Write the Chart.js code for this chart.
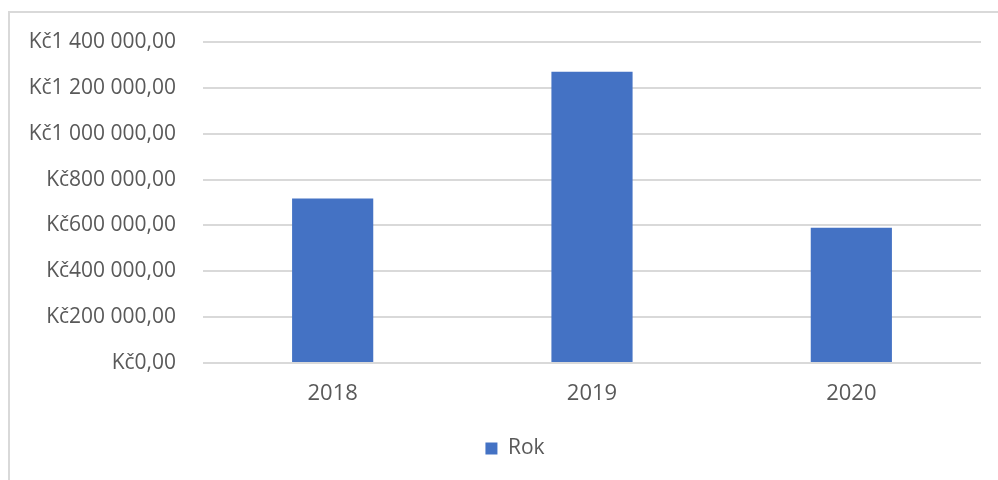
<!DOCTYPE html>
<html>
<head>
<meta charset="utf-8">
<script src="https://cdn.jsdelivr.net/npm/chart.js@4.4.1/dist/chart.umd.min.js"></script>
<style>
  html, body { margin: 0; padding: 0; background: #fff; overflow: hidden; }
  .frame {
    position: absolute; left: 8px; top: 11px; width: 1200px; height: 600px;
    border-top: 2px solid #d9d9d9; border-left: 2px solid #d9d9d9;
  }
  canvas { position: absolute; left: 0; top: 0; }
</style>
</head>
<body>
<div class="frame"></div>
<canvas id="myChart" width="998" height="480"></canvas>
<script>
// values
const years = ["2018", "2019", "2020"];
const amounts = [717000, 1270000, 590000];
const seriesName = "Rok";
const yMax = 1400000;
const yStep = 200000;

function formatKc(value) {
  const whole = Math.round(value).toString().replace(/\B(?=(\d{3})+(?!\d))/g, " ");
  return "Kč" + whole + ",00";
}

// the original frame is wider than the picture, so its legend sits left of the canvas centre
const legendShift = {
  id: "legendShift",
  afterLayout(chart) {
    chart.legend.left = 32;
    chart.legend.right = chart.width;
  },
};

function createChart() {
  const ctx = document.getElementById("myChart");
  const grey = "#595959";

  new Chart(ctx, {
    type: "bar",
    data: {
      labels: years,
      datasets: [
        {
          label: seriesName,
          data: amounts,
          backgroundColor: "#4472C4",
          borderWidth: 0,
          categoryPercentage: 1,
          barPercentage: 0.313,
        },
      ],
    },
    plugins: [legendShift],
    options: {
      responsive: false,
      animation: false,
      devicePixelRatio: 1,
      layout: {
        padding: { left: 10, right: 17, top: 42, bottom: 11 },
      },
      plugins: {
        tooltip: { enabled: false },
        legend: {
          position: "bottom",
          labels: {
            boxWidth: 12,
            boxHeight: 12,
            padding: 10,
            color: grey,
            font: { family: "Open Sans", size: 21 },
          },
        },
      },
      scales: {
        y: {
          min: 0,
          max: yMax,
          ticks: {
            stepSize: yStep,
            padding: 27,
            color: grey,
            font: { family: "Open Sans", size: 21 },
            callback: (v) => formatKc(v),
          },
          grid: { color: "#d9d9d9", lineWidth: 2, drawTicks: false },
          border: { display: false },
          afterFit: (scale) => { scale.width = 193; },
        },
        x: {
          ticks: {
            padding: 10,
            color: grey,
            font: { family: "Open Sans", size: 22 },
          },
          grid: { display: false },
          border: { display: false },
          afterFit: (scale) => { scale.height = 65; },
        },
      },
    },
  });
}

createChart();
</script>
</body>
</html>
